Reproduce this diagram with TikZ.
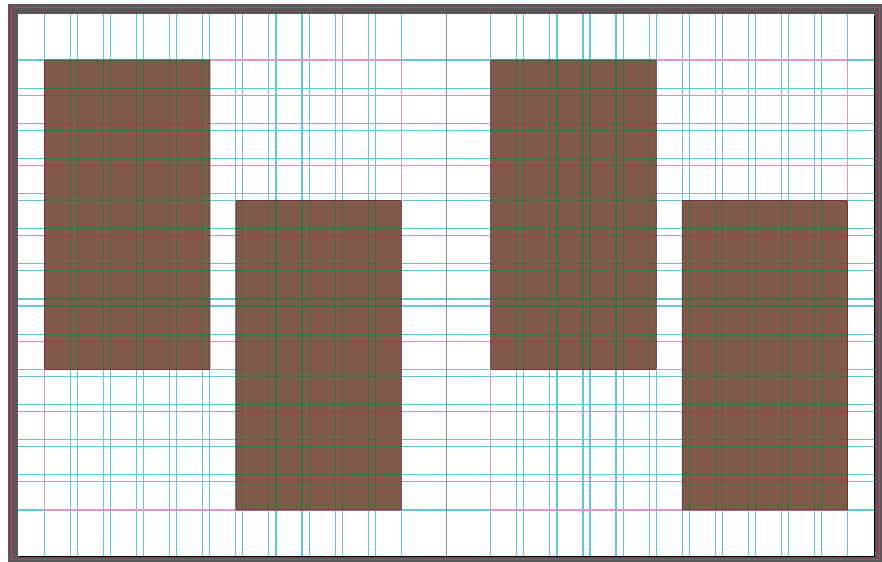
\documentclass[tikz,border=0pt]{standalone}
\usepackage{tikz}
\definecolor{framegray}{RGB}{92, 86, 92}
\definecolor{bleedred}{RGB}{196, 60, 96}
\definecolor{guidecyan}{RGB}{100, 200, 212}
\definecolor{guidegreen}{RGB}{60, 112, 68}
\definecolor{marginpink}{RGB}{222, 150, 205}
\definecolor{spinegray}{RGB}{140, 140, 140}
\definecolor{blockbrown}{RGB}{128, 89, 72}
\definecolor{blockedge}{RGB}{112, 50, 60}
\tikzset{
  guideline/.style={line width=0.95pt},
  marginline/.style={line width=0.95pt, marginpink},
  blockfill/.style={fill=blockbrown, rounded corners=0.8pt},
  blockline/.style={draw=blockedge, line width=0.6pt, rounded corners=0.8pt}
}
% row and column guides of the spread, in colour #1
\newcommand{\spreadguides}[1]{%
    \foreach \k in {0,...,12} {
        \draw[guideline, #1] (18,{60+35.15*\k}) -- (874,{60+35.15*\k});
        \draw[guideline, #1] (18,{88.15+35.15*\k}) -- (874,{88.15+35.15*\k});
    }
    \foreach \s in {44.5, 490.8}
        \foreach \k in {0,...,10} {
            \draw[guideline, #1] ({\s+33.07*\k},14) -- ({\s+33.07*\k},556);
            \draw[guideline, #1] ({\s+26+33.07*\k},14) -- ({\s+26+33.07*\k},556);
        }
}

\begin{document}
\begin{tikzpicture}[x=0.03cm, y=-0.03cm]
    \useasboundingbox (0,0) rectangle (882,562);
    % pasteboard frame and page
    \fill[framegray] (8,4) rectangle (882,562);
    \draw[bleedred, line width=0.5pt] (11.5,7.5) rectangle (879,559);
    \fill[white] (18,14) rectangle (874,556);
    \draw[black, line width=1.2pt] (874.6,16) -- (874.6,556.6) -- (19,556.6);

    % guides on the page
    \spreadguides{guidecyan}
    \draw[spinegray, line width=0.8pt] (446.7,14) -- (446.7,556);
    \draw[marginline] (44.5,60) rectangle (401.2,510);
    \draw[marginline] (490.8,60) rectangle (847.5,510);

    % picture blocks
    \fill[blockfill] (44.5,60) rectangle (209.9,369.4);
    \fill[blockfill] (235.9,200.6) rectangle (401.2,510);
    \fill[blockfill] (490.8,60) rectangle (656.2,369.4);
    \fill[blockfill] (682.2,200.6) rectangle (847.5,510);

    % guides seen through the blocks
    \begin{scope}
        \clip (44.5,60) rectangle (209.9,369.4)
              (235.9,200.6) rectangle (401.2,510)
              (490.8,60) rectangle (656.2,369.4)
              (682.2,200.6) rectangle (847.5,510);
        \spreadguides{guidegreen}
    \end{scope}

    % block outlines
    \draw[blockline] (44.5,60) rectangle (209.9,369.4);
    \draw[blockline] (235.9,200.6) rectangle (401.2,510);
    \draw[blockline] (490.8,60) rectangle (656.2,369.4);
    \draw[blockline] (682.2,200.6) rectangle (847.5,510);
\end{tikzpicture}
\end{document}
